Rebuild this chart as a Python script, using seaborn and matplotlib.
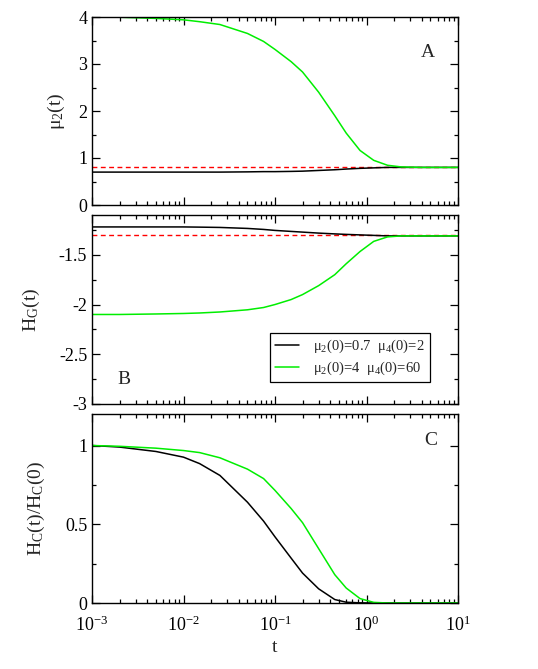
import matplotlib
matplotlib.use("Agg")
import matplotlib.pyplot as plt
import seaborn as sns
import pandas as pd
import numpy as np
from matplotlib.ticker import LogLocator, MultipleLocator, NullFormatter

sns.set_theme(style="ticks")
plt.rcParams['font.family'] = ['Liberation Serif', 'DejaVu Serif']
plt.rcParams['mathtext.fontset'] = 'custom'
plt.rcParams['mathtext.rm'] = 'Liberation Serif'
plt.rcParams['mathtext.it'] = 'Liberation Serif:italic'
plt.rcParams['mathtext.default'] = 'rm'

# ---------------- data ----------------
t = [0.001, 0.002, 0.005, 0.01, 0.015, 0.025, 0.05, 0.075, 0.1, 0.15, 0.2,
     0.3, 0.45, 0.6, 0.85, 1.2, 1.7, 2.4, 4.0, 10.0]

mu2_black = [0.70, 0.70, 0.70, 0.70, 0.70, 0.70, 0.705, 0.71, 0.71, 0.715,
             0.72, 0.735, 0.75, 0.765, 0.78, 0.79, 0.80, 0.80, 0.80, 0.80]
mu2_green = [4.00, 3.995, 3.97, 3.94, 3.90, 3.84, 3.65, 3.48, 3.31, 3.05,
             2.83, 2.40, 1.90, 1.53, 1.16, 0.95, 0.845, 0.81, 0.80, 0.80]
mu2_eq = 0.80

hg_black = [-1.22, -1.22, -1.22, -1.22, -1.222, -1.225, -1.235, -1.245, -1.255,
            -1.265, -1.272, -1.282, -1.29, -1.295, -1.30, -1.305, -1.31, -1.31,
            -1.31, -1.31]
hg_green = [-2.10, -2.10, -2.095, -2.09, -2.085, -2.075, -2.053, -2.03, -2.00,
            -1.95, -1.90, -1.81, -1.70, -1.59, -1.467, -1.365, -1.32, -1.31,
            -1.31, -1.31]
hg_eq = -1.306

hc_black = [1.00, 0.99, 0.962, 0.926, 0.885, 0.81, 0.64, 0.52, 0.42, 0.285,
            0.19, 0.09, 0.022, 0.005, 0.001, 0.0, 0.0, 0.0, 0.0, 0.0]
hc_green = [1.00, 0.995, 0.983, 0.968, 0.955, 0.922, 0.85, 0.79, 0.715, 0.60,
            0.51, 0.345, 0.18, 0.095, 0.028, 0.004, 0.0, 0.0, 0.0, 0.0]

labels = ['μ$_2$(0)=0.7  μ$_4$(0)=2', 'μ$_2$(0)=4  μ$_4$(0)=60']
colors = ['black', '#00ee00']

W, H = 538, 669
fig = plt.figure(figsize=(W / 100, H / 100), dpi=100)

X0, XW = 92, 366

def box(top, bottom):
    return [X0 / W, (H - bottom) / H, XW / W, (bottom - top) / H]

axA = fig.add_axes(box(17, 205))
axB = fig.add_axes(box(215, 404))
axC = fig.add_axes(box(414, 603))

def make_df(y1, y2):
    return pd.DataFrame({
        't': t + t,
        'y': y1 + y2,
        'series': [labels[0]] * len(t) + [labels[1]] * len(t),
    })

pal = dict(zip(labels, colors))
for ax, (y1, y2), leg in [(axA, (mu2_black, mu2_green), False),
                          (axB, (hg_black, hg_green), True),
                          (axC, (hc_black, hc_green), False)]:
    sns.lineplot(data=make_df(y1, y2), x='t', y='y', hue='series', palette=pal,
                 ax=ax, linewidth=1.1, legend=leg, sort=True)

axA.axhline(mu2_eq, color='#ff0000', ls=(0, (3.5, 2.5)), lw=1.0, zorder=1.5)
axB.axhline(hg_eq, color='#ff0000', ls=(0, (3.5, 2.5)), lw=1.0, zorder=1.5)

fs = 13
for ax in (axA, axB, axC):
    ax.set_xscale('log')
    ax.set_xlim(1e-3, 1e1)
    ax.xaxis.set_major_locator(LogLocator(base=10, numticks=10))
    ax.xaxis.set_minor_locator(LogLocator(base=10, subs=np.arange(2, 10), numticks=20))
    ax.xaxis.set_minor_formatter(NullFormatter())
    ax.tick_params(which='both', direction='in', top=True, right=True,
                   labelsize=fs, colors='black', width=0.9)
    ax.tick_params(which='major', length=6)
    ax.tick_params(which='minor', length=3)
    ax.tick_params(axis='x', which='major', pad=9)
    for s in ax.spines.values():
        s.set_color('black')
        s.set_linewidth(1.0)
    ax.set_xlabel('')

axA.set_xticklabels([])
axB.set_xticklabels([])

axA.set_ylim(0, 4)
axA.yaxis.set_major_locator(MultipleLocator(1))
axA.yaxis.set_minor_locator(MultipleLocator(0.5))
axA.set_ylabel('μ$_2$(t)', fontsize=fs + 1)
axA.yaxis.set_label_coords(-0.067, 0.5)

axB.set_ylim(-3, -1.1)
axB.set_yticks([-3, -2.5, -2, -1.5])
axB.set_yticklabels(['-3', '-2.5', '-2', '-1.5'])
axB.yaxis.set_minor_locator(MultipleLocator(0.25))
axB.set_ylabel('H$_G$(t)', fontsize=fs + 1)
axB.yaxis.set_label_coords(-0.137, 0.5)

axC.set_ylim(0, 1.2)
axC.set_yticks([0, 0.5, 1])
axC.set_yticklabels(['0', '0.5', '1'])
axC.yaxis.set_minor_locator(MultipleLocator(0.25))
axC.set_ylabel('H$_C$(t)/H$_C$(0)', fontsize=fs + 1)
axC.yaxis.set_label_coords(-0.123, 0.5)
axC.set_xlabel('t', fontsize=fs + 1)
axC.xaxis.set_label_coords(0.5, -0.19)

axA.text(0.918, 0.81, 'A', transform=axA.transAxes, fontsize=fs + 1, ha='center', va='center')
axB.text(0.087, 0.127, 'B', transform=axB.transAxes, fontsize=fs + 1, ha='center', va='center')
axC.text(0.926, 0.862, 'C', transform=axC.transAxes, fontsize=fs + 1, ha='center', va='center')

leg = axB.legend(loc='lower right', bbox_to_anchor=(0.923, 0.116), fontsize=10.5,
                 frameon=True, fancybox=False, edgecolor='black', framealpha=1,
                 handlelength=1.6, handletextpad=1.0, borderpad=0.35,
                 labelspacing=0.3, borderaxespad=0, title=None)
leg.get_frame().set_linewidth(0.9)

fig.savefig('out.png', dpi=100)
